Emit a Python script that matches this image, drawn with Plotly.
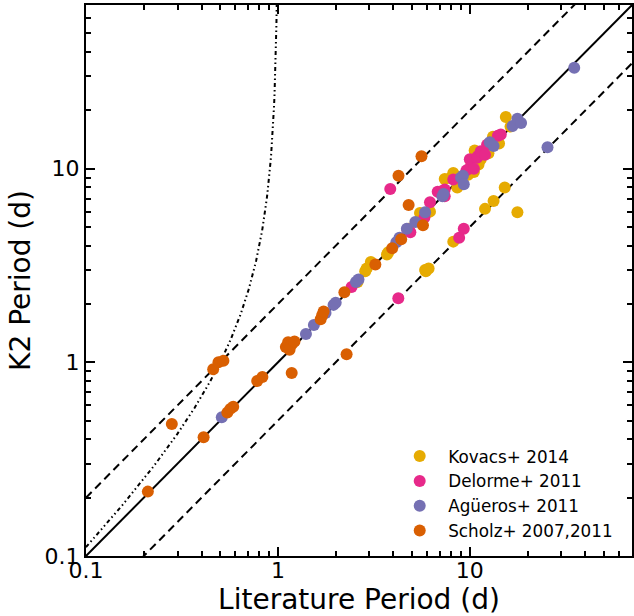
import numpy as np
import plotly.graph_objects as go

# ---- data (literature period, K2 period), days ----
kovacs_lit = [2.6, 2.85, 2.9, 3.05, 3.7, 3.76, 4.8, 5.5, 5.85, 5.9, 6.1, 6.2, 7.4, 8.0, 8.2,
              8.2, 9.8, 10.2, 10.6, 11.1, 11.4, 12.0, 13.2, 13.3, 15.2, 15.4, 16.3, 17.7, 9.0, 10.5,
              12.5, 14.2, 7.0, 8.6]
kovacs_k2 = [2.6, 2.95, 3.05, 3.3, 3.6, 3.7, 4.9, 5.9, 3.0, 2.95, 3.05, 6.0, 8.85, 9.0, 9.5,
             4.2, 9.3, 10.8, 12.4, 10.5, 11.2, 6.2, 14.6, 6.8, 8.0, 18.5, 16.5, 5.95, 8.6, 9.6,
             12.0, 13.5, 7.6, 8.0]

delorme_lit = [2.42, 3.85, 4.24, 4.72, 4.9, 5.8, 6.2, 6.8, 7.1, 7.4, 7.4, 8.2, 8.8, 9.3,
               10.0, 10.1, 10.9, 11.0, 11.4, 12.3, 14.0, 14.5, 9.6, 10.5, 12.0]
delorme_k2 = [2.45, 7.85, 2.14, 4.87, 4.7, 5.6, 6.7, 7.6, 7.4, 7.2, 7.8, 8.8, 4.4, 4.9,
              11.2, 10.2, 11.4, 11.6, 12.3, 13.3, 14.8, 15.0, 9.8, 10.0, 11.8]

agueros_lit = [0.51, 1.40, 1.54, 1.77, 1.95, 2.0, 2.55, 2.63, 4.14, 4.3, 4.7, 5.2, 5.85,
               7.2, 7.3, 9.0, 9.2, 9.3, 12.7, 13.3, 16.7, 17.7, 18.5, 25.4, 35.0]
agueros_k2 = [0.52, 1.40, 1.56, 1.80, 1.98, 2.03, 2.6, 2.68, 4.17, 4.4, 4.9, 5.3, 5.95,
              7.2, 7.4, 9.0, 9.2, 8.3, 13.7, 13.1, 16.6, 18.1, 17.2, 12.9, 33.2]

scholz_lit = [0.21, 0.28, 0.41, 0.46, 0.49, 0.52, 0.545, 0.565, 0.585, 0.78, 0.83, 1.10,
              1.13, 1.18, 1.15, 1.22, 1.18, 1.67, 1.70, 1.73, 2.22, 2.28, 3.22, 3.94, 4.39,
              5.7, 5.6, 4.25, 4.8]
scholz_k2 = [0.215, 0.48, 0.41, 0.92, 1.0, 1.02, 0.55, 0.575, 0.59, 0.80, 0.84, 1.20,
             1.27, 1.24, 1.16, 1.28, 0.88, 1.67, 1.75, 1.83, 2.30, 1.10, 3.2, 3.88, 4.32,
             5.1, 11.6, 9.2, 6.5]

series_names = ["Kovacs+ 2014", "Delorme+ 2011", "Agüeros+ 2011", "Scholz+ 2007,2011"]
series_colors = ["#E6AB02", "#E7298A", "#7570B3", "#D95F02"]

major_ticks = [0.1, 1, 10]
major_labels = ["0.1", "1", "10"]
minor_ticks = [m * d for d in (0.1, 1, 10) for m in range(2, 10) if m * d <= 70]

# reference-line grid
line_x = np.logspace(-1, np.log10(70), 200)
beat_x = np.logspace(-1, np.log10(0.9995), 400)

fig = go.Figure()

fig.add_trace(go.Scatter(x=line_x, y=line_x, mode="lines", showlegend=False,
                         line=dict(color="black", width=2)))
fig.add_trace(go.Scatter(x=line_x, y=2 * line_x, mode="lines", showlegend=False,
                         line=dict(color="black", width=2, dash="8px,5px")))
fig.add_trace(go.Scatter(x=line_x, y=0.5 * line_x, mode="lines", showlegend=False,
                         line=dict(color="black", width=2, dash="8px,5px")))
fig.add_trace(go.Scatter(x=beat_x, y=beat_x / (1 - beat_x), mode="lines", showlegend=False,
                         line=dict(color="black", width=2, dash="4px,3px,1.5px,3px,1.5px,3px")))

for name, color, xs, ys in zip(series_names, series_colors,
                               [kovacs_lit, delorme_lit, agueros_lit, scholz_lit],
                               [kovacs_k2, delorme_k2, agueros_k2, scholz_k2]):
    fig.add_trace(go.Scatter(x=xs, y=ys, mode="markers", name=name,
                             marker=dict(color=color, size=12, line=dict(width=0))))

axis_common = dict(
    type="log", range=[-1, np.log10(70)],
    tickvals=major_ticks, ticktext=major_labels,
    ticks="inside", ticklen=9, tickwidth=1.5, tickcolor="black",
    showline=True, linecolor="black", linewidth=2, mirror="ticks",
    showgrid=False, zeroline=False,
    tickfont=dict(size=22, color="black"),
    minor=dict(tickvals=minor_ticks, ticks="inside", ticklen=5, tickwidth=1.5,
               tickcolor="black", showgrid=False),
)

fig.update_layout(
    width=634, height=616,
    margin=dict(l=86, r=0, t=5, b=60),
    paper_bgcolor="white", plot_bgcolor="white",
    font=dict(family="DejaVu Sans", color="black"),
    xaxis=dict(axis_common, ticklabelstandoff=-6,
               title=dict(text="Literature Period (d)", font=dict(size=28), standoff=2)),
    yaxis=dict(axis_common,
               title=dict(text="K2 Period (d)", font=dict(size=28), standoff=6)),
    legend=dict(x=0.559, y=0.213, xanchor="left", yanchor="top",
                bgcolor="rgba(0,0,0,0)", borderwidth=0,
                font=dict(size=16.8, color="black"), itemsizing="constant",
                itemwidth=47, tracegroupgap=0),
    showlegend=True,
)

fig.write_html("out.html")
